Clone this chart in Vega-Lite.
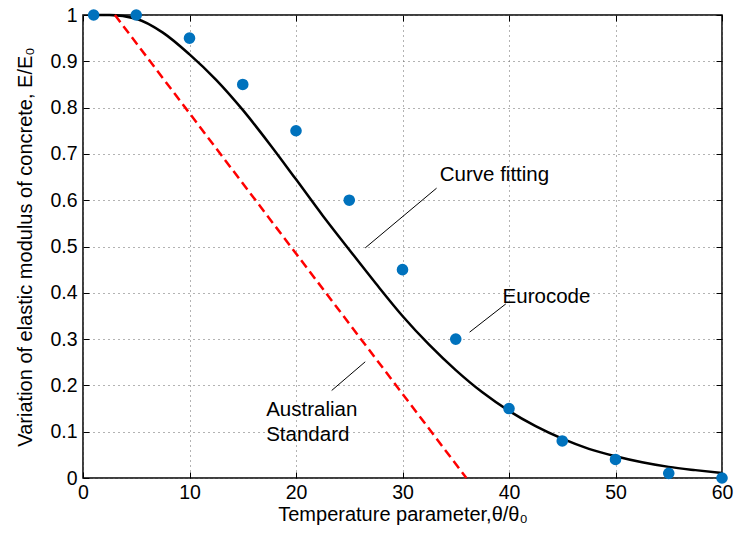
{
  "$schema": "https://vega.github.io/schema/vega-lite/v6.json",
  "width": 639,
  "height": 463,
  "autosize": {"type": "none"},
  "padding": {"left": 83, "top": 15, "right": 16, "bottom": 59},
  "background": "white",
  "config": {
    "font": "Liberation Sans",
    "view": {"stroke": "black", "strokeWidth": 1.5},
    "axis": {
      "domain": false,
      "tickColor": "black",
      "tickWidth": 1,
      "tickSize": -6,
      "labelFlush": false,
      "labelColor": "black",
      "labelFontSize": 19.5,
      "labelFont": "Liberation Sans",
      "titleColor": "black",
      "titleFontSize": 20,
      "titleFontWeight": "normal",
      "titleFont": "Liberation Sans",
      "gridColor": "#666",
      "gridDash": [1, 4],
      "gridWidth": 1
    }
  },
  "datasets": {
    "australian": [{"x": 3, "y": 1}, {"x": 36, "y": 0}],
    "curve": [
      {"x": 1, "y": 1.0}, {"x": 2.5, "y": 1.0}, {"x": 5, "y": 0.992}, {"x": 7.5, "y": 0.962},
      {"x": 10, "y": 0.915}, {"x": 12.5, "y": 0.86}, {"x": 15, "y": 0.795}, {"x": 17.5, "y": 0.722},
      {"x": 20, "y": 0.645}, {"x": 22.5, "y": 0.567}, {"x": 25, "y": 0.493}, {"x": 27.5, "y": 0.42},
      {"x": 30, "y": 0.35}, {"x": 32.5, "y": 0.288}, {"x": 35, "y": 0.233}, {"x": 37.5, "y": 0.185},
      {"x": 40, "y": 0.145}, {"x": 42.5, "y": 0.112}, {"x": 45, "y": 0.085}, {"x": 47.5, "y": 0.063},
      {"x": 50, "y": 0.047}, {"x": 52.5, "y": 0.034}, {"x": 55, "y": 0.024}, {"x": 57.5, "y": 0.017},
      {"x": 60, "y": 0.011}
    ],
    "eurocode": [
      {"x": 1, "y": 1}, {"x": 5, "y": 1}, {"x": 10, "y": 0.95}, {"x": 15, "y": 0.85},
      {"x": 20, "y": 0.75}, {"x": 25, "y": 0.6}, {"x": 30, "y": 0.45}, {"x": 35, "y": 0.3},
      {"x": 40, "y": 0.15}, {"x": 45, "y": 0.08}, {"x": 50, "y": 0.04}, {"x": 55, "y": 0.01},
      {"x": 60, "y": 0.0}
    ],
    "pointers": [
      {"x": 33.2, "y": 0.626, "x2": 26.5, "y2": 0.497},
      {"x": 39.7, "y": 0.376, "x2": 36.3, "y2": 0.315},
      {"x": 23.35, "y": 0.189, "x2": 26.5, "y2": 0.251}
    ],
    "labels": [
      {"x": 33.5, "y": 0.654, "label": "Curve fitting"},
      {"x": 39.4, "y": 0.391, "label": "Eurocode"},
      {"x": 17.2, "y": 0.147, "label": "Australian"},
      {"x": 17.2, "y": 0.093, "label": "Standard"}
    ]
  },
  "layer": [
    {
      "data": {"name": "curve"},
      "mark": {"type": "line", "color": "black", "strokeWidth": 2.5, "clip": false, "interpolate": "monotone"},
      "encoding": {
        "x": {"field": "x", "type": "quantitative", "scale": {"domain": [0, 60], "nice": false},
              "axis": {"values": [0, 10, 20, 30, 40, 50, 60], "grid": true, "labelPadding": 11, "title": "Temperature parameter,θ/θ₀", "titlePadding": 3}},
        "y": {"field": "y", "type": "quantitative", "scale": {"domain": [0, 1], "nice": false},
              "axis": {"values": [0, 0.1, 0.2, 0.3, 0.4, 0.5, 0.6, 0.7, 0.8, 0.9, 1], "format": "~g", "grid": true, "labelPadding": 12, "title": "Variation of elastic modulus of concrete, E/E₀", "titlePadding": 14}}
      }
    },
    {
      "data": {"name": "australian"},
      "mark": {"type": "line", "color": "#FF0000", "strokeWidth": 2.5, "strokeDash": [9, 5], "clip": false},
      "encoding": {
        "x": {"field": "x", "type": "quantitative", "scale": {"domain": [0, 60], "nice": false}, "axis": null},
        "y": {"field": "y", "type": "quantitative", "scale": {"domain": [0, 1], "nice": false}, "axis": null}
      }
    },
    {
      "data": {"name": "pointers"},
      "mark": {"type": "rule", "color": "black", "strokeWidth": 1},
      "encoding": {
        "x": {"field": "x", "type": "quantitative", "scale": {"domain": [0, 60], "nice": false}, "axis": null},
        "y": {"field": "y", "type": "quantitative", "scale": {"domain": [0, 1], "nice": false}, "axis": null},
        "x2": {"field": "x2"},
        "y2": {"field": "y2"}
      }
    },
    {
      "data": {"name": "eurocode"},
      "mark": {"type": "point", "filled": true, "color": "#0072BD", "opacity": 1, "size": 135, "clip": false},
      "encoding": {
        "x": {"field": "x", "type": "quantitative", "scale": {"domain": [0, 60], "nice": false}, "axis": null},
        "y": {"field": "y", "type": "quantitative", "scale": {"domain": [0, 1], "nice": false}, "axis": null}
      }
    },
    {
      "data": {"name": "labels"},
      "mark": {"type": "text", "align": "left", "baseline": "middle", "fontSize": 20.5, "color": "black", "font": "Liberation Sans"},
      "encoding": {
        "x": {"field": "x", "type": "quantitative", "scale": {"domain": [0, 60], "nice": false}, "axis": null},
        "y": {"field": "y", "type": "quantitative", "scale": {"domain": [0, 1], "nice": false}, "axis": null},
        "text": {"field": "label", "type": "nominal"}
      }
    },
    {
      "data": {"name": "australian"},
      "mark": {"type": "point", "opacity": 0},
      "encoding": {
        "x": {"field": "x", "type": "quantitative", "scale": {"domain": [0, 60], "nice": false},
              "axis": {"orient": "top", "values": [0, 10, 20, 30, 40, 50, 60], "labels": false, "grid": false, "title": null}},
        "y": {"field": "y", "type": "quantitative", "scale": {"domain": [0, 1], "nice": false},
              "axis": {"orient": "right", "values": [0, 0.1, 0.2, 0.3, 0.4, 0.5, 0.6, 0.7, 0.8, 0.9, 1], "labels": false, "grid": false, "title": null}}
      }
    }
  ],
  "resolve": {"axis": {"x": "independent", "y": "independent"}}
}
